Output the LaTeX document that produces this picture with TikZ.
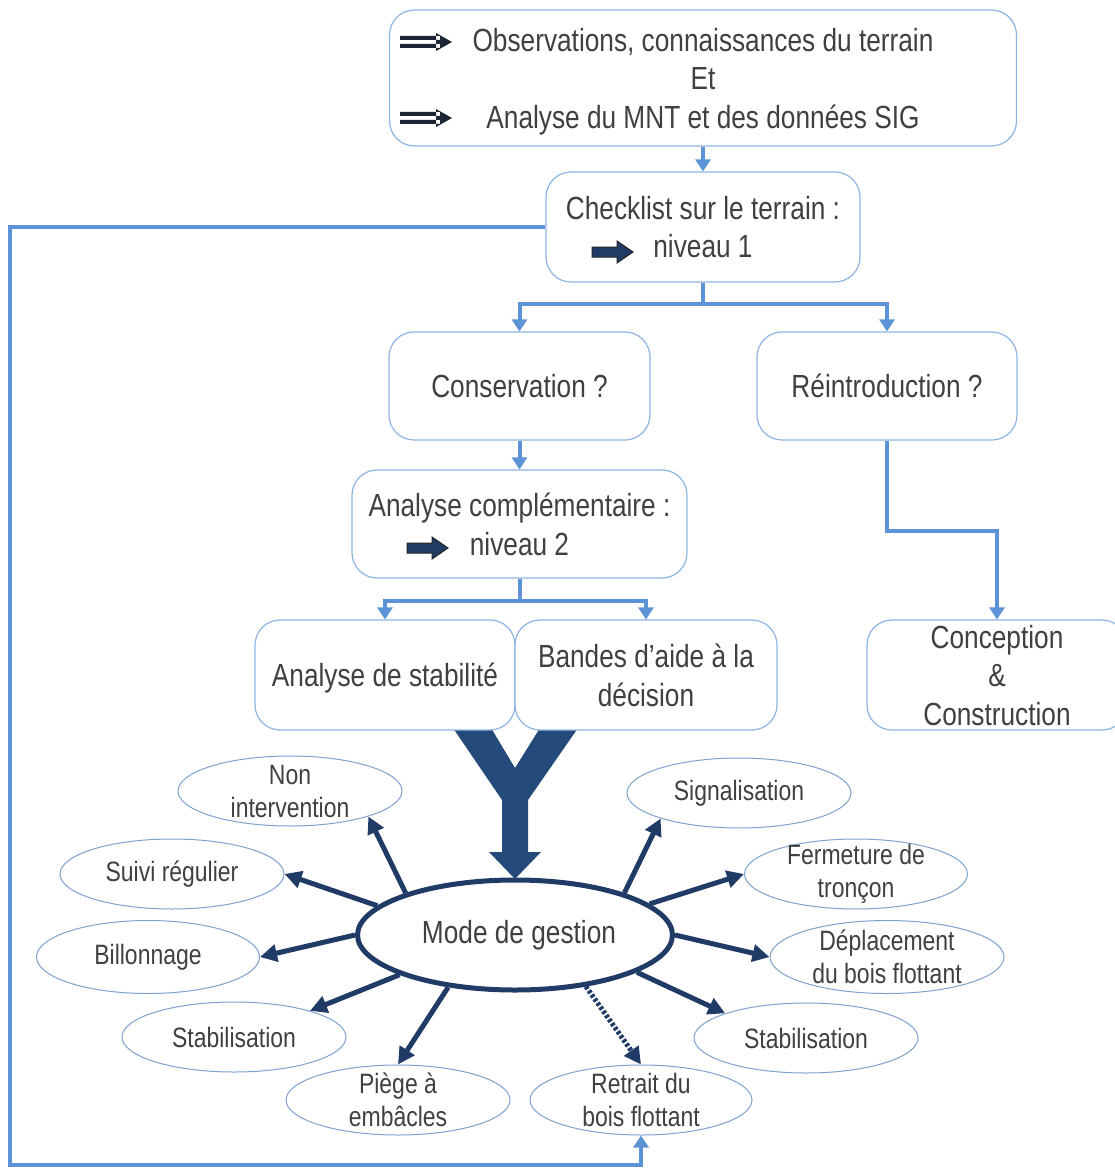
\documentclass[tikz,border=0pt]{standalone}
\usepackage{fontspec}
\setmainfont[FakeStretch=0.82]{Liberation Sans}
\usetikzlibrary{arrows.meta,shapes.geometric}

\definecolor{boxline}{HTML}{8EB4E3}
\definecolor{ellline}{HTML}{7DA2CF}
\definecolor{linkblue}{HTML}{5B93D6}
\definecolor{navy}{HTML}{1F3B66}
\definecolor{yblue}{HTML}{244A7C}
\definecolor{txtgrey}{HTML}{404040}
\definecolor{inkdark}{HTML}{1C2533}

\tikzset{
  box/.style={draw=boxline, line width=1.2pt, rounded corners=25pt, fill=white,
    text=txtgrey, align=center, inner sep=0pt, text depth=0pt,
    font=\fontsize{32}{38.5}\selectfont},
  choice/.style={ellipse, draw=ellline, line width=1pt, inner sep=0pt, fill=white,
    minimum width=224pt, minimum height=70pt},
  ctext/.style={text=txtgrey, align=center, font=\fontsize{28}{33}\selectfont},
  flow/.style={draw=linkblue, line width=4pt, -{Triangle[length=12pt,width=15pt]}},
  branch/.style={draw=navy, line width=5pt, -{Triangle[length=17pt,width=17pt]}},
}

\newcommand{\levelarrow}[2]{\filldraw[fill=navy, draw=black!85, line width=1pt]
  (#1,#2) ++(0,-5) -- ++(25,0) -- ++(0,-6) -- ++(16,11) -- ++(-16,11)
  -- ++(0,-6) -- ++(-25,0) -- cycle;}
\newcommand{\twinarrow}[2]{\fill[inkdark] (#1,#2) ++(0,-6) rectangle ++(40,4)
  (#1,#2) ++(0,2) rectangle ++(40,4)
  (#1,#2) ++(36,-9) -- ++(16,9) -- ++(-16,9) -- cycle;}

\begin{document}
\begin{tikzpicture}[x=1pt,y=-1pt]
\useasboundingbox (0,0) rectangle (1115,1169);

\fill[yblue] (453,728) -- (491,728) -- (515,768) -- (540,728) -- (578,728)
  -- (528,800) -- (528,852) -- (541,852) -- (515,879) -- (489,852)
  -- (502,852) -- (502,800) -- cycle;

\node[box, minimum width=627pt, minimum height=136pt] (obs) at (703,78)
  {Observations, connaissances du terrain\\Et\\Analyse du MNT et des données SIG};
\node[box, minimum width=314pt, minimum height=110pt] (check) at (703,227)
  {Checklist sur le terrain :\\niveau 1};
\node[box, minimum width=261pt, minimum height=108pt] (cons) at (519.5,386) {Conservation ?};
\node[box, minimum width=260pt, minimum height=108pt] (reint) at (887,386) {Réintroduction ?};
\node[box, minimum width=335pt, minimum height=108pt] (anal) at (519.5,524)
  {Analyse complémentaire :\\niveau 2};
\node[box, minimum width=260pt, minimum height=110pt] (stab) at (385,675) {Analyse de stabilité};
\node[box, minimum width=262pt, minimum height=110pt] (bandes) at (646,675)
  {Bandes d’aide à la\\décision};
\node[box, minimum width=260pt, minimum height=110pt] (concep) at (997,675)
  {Conception\\\&\\Construction};

\twinarrow{400}{42}
\twinarrow{400}{118}
\levelarrow{592}{252}
\levelarrow{407}{548}

\draw[flow] (obs.south) -- (check.north);
\draw[flow] (check.south) -- ++(0,21) -| (cons.north);
\draw[flow] (check.south) -- ++(0,21) -| (reint.north);
\draw[flow] (cons.south) -- (anal.north);
\draw[flow] (anal.south) -- ++(0,22) -| (stab.north);
\draw[flow] (anal.south) -- ++(0,22) -| (bandes.north);
\draw[flow] (reint.south) -- ++(0,90) -| (concep.north);

\node[ellipse, draw=navy, line width=5pt, minimum width=315pt, minimum height=110pt,
  inner sep=0pt, fill=white, text=txtgrey, font=\fontsize{32}{36}\selectfont] (mode)
  at (515,935) {\hspace{8pt}Mode de gestion};

\node[choice, label={[ctext]center:Non\\intervention}] (nonint) at (290,791) {};
\node[choice, label={[ctext]center:Suivi régulier}] (suivi) at (172,874) {};
\node[choice, minimum width=223pt, minimum height=73pt, label={[ctext]center:Billonnage}] (billon) at (148,957) {};
\node[choice, label={[ctext]center:Stabilisation}] (stabl) at (234,1037) {};
\node[choice, label={[ctext]center:Piège à\\embâcles}] (piege) at (398,1100) {};
\node[choice, minimum width=222pt, label={[ctext]center:Retrait du\\bois flottant}] (retrait) at (641,1100) {};
\node[choice, label={[ctext]center:Signalisation}] (signal) at (739,793) {};
\node[choice, minimum width=223pt, label={[ctext]center:Fermeture de\\tronçon}] (ferme) at (856,874) {};
\node[choice, minimum width=234pt, minimum height=73pt, label={[ctext]center:Déplacement\\du bois flottant}] (deplace) at (887,957) {};
\node[choice, label={[ctext]center:Stabilisation}] (stabr) at (806,1038) {};

\draw[branch] (mode.159) -- (nonint.-18);
\draw[branch] (mode.168) -- (suivi.0);
\draw[branch] (mode.180) -- (billon.0);
\draw[branch] (mode.199) -- (stabl.19);
\draw[branch] (mode.218) -- (piege.90);
\draw[branch, dash pattern=on 3pt off 2pt] (mode.324) -- (retrait.90);
\draw[branch] (mode.343) -- (stabr.163);
\draw[branch] (mode.0) -- (deplace.180);
\draw[branch] (mode.13) -- (ferme.180);
\draw[branch] (mode.21) -- (signal.198);

\coordinate (loop) at (10,1165);
\draw[flow] (check.west) -| (loop) -| (retrait.south);
\end{tikzpicture}
\end{document}
